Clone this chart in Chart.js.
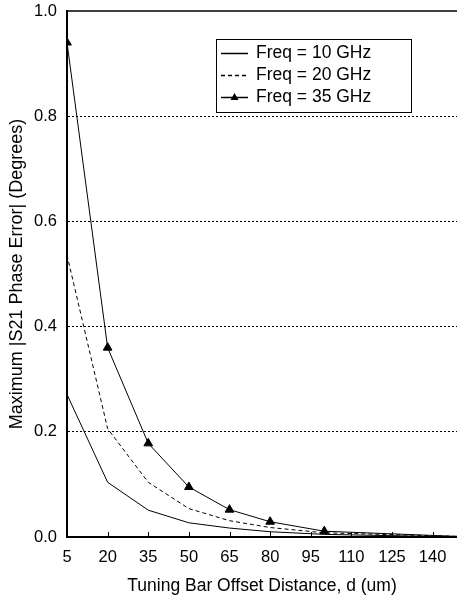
<!DOCTYPE html>
<html>
<head>
<meta charset="utf-8">
<script src="https://cdn.jsdelivr.net/npm/chart.js@4/dist/chart.umd.min.js"></script>
<style>
  html, body { margin: 0; padding: 0; background: #fff; }
</style>
</head>
<body>
<canvas id="grafico" width="457" height="599"></canvas>
<script>
// === Dados ===
const distancias = [5, 20, 35, 50, 65, 80, 100, 150];
const erro10GHz = [0.271, 0.104, 0.051, 0.027, 0.017, 0.010, 0.005, 0.000];
const erro20GHz = [0.536, 0.206, 0.104, 0.054, 0.031, 0.018, 0.008, 0.001];
const erro35GHz = [0.940, 0.360, 0.178, 0.095, 0.052, 0.029, 0.011, 0.001];
const nomesSeries = ["Freq = 10 GHz", "Freq = 20 GHz", "Freq = 35 GHz"];
const ticksX = [5, 20, 35, 50, 65, 80, 95, 110, 125, 140];
const ticksY = [0, 0.2, 0.4, 0.6, 0.8, 1.0];

const FONTE = '"Liberation Sans", Arial, sans-serif';

function pares(valores) {
  return distancias.map((d, i) => ({ x: d, y: valores[i] }));
}

// Moldura superior, marcas internas do eixo X e legenda em caixa
const molduraLegenda = {
  id: "molduraLegenda",
  afterDraw(chart) {
    const ctx = chart.ctx;
    const area = chart.chartArea;
    const escalaX = chart.scales.x;

    ctx.save();
    ctx.strokeStyle = "#000";

    // linha superior sólida em 1.0
    ctx.lineWidth = 1.5;
    ctx.beginPath();
    ctx.moveTo(area.left, area.top);
    ctx.lineTo(area.right, area.top);
    ctx.stroke();

    // marcas do eixo X voltadas para dentro
    ctx.lineWidth = 1;
    ticksX.slice(1).forEach(v => {
      const px = Math.round(escalaX.getPixelForValue(v)) + 0.5;
      ctx.beginPath();
      ctx.moveTo(px, area.bottom);
      ctx.lineTo(px, area.bottom - 5);
      ctx.stroke();
    });

    // legenda
    const caixa = { x: 216.5, y: 39.5, w: 195, h: 73 };
    ctx.fillStyle = "#fff";
    ctx.fillRect(caixa.x, caixa.y, caixa.w, caixa.h);
    ctx.lineWidth = 1;
    ctx.strokeRect(caixa.x, caixa.y, caixa.w, caixa.h);

    ctx.font = "17.5px " + FONTE;
    ctx.textBaseline = "middle";
    ctx.textAlign = "left";
    chart.data.datasets.forEach((ds, i) => {
      const y = 53 + i * 22;
      ctx.save();
      ctx.strokeStyle = "#000";
      ctx.lineWidth = 1.5;
      ctx.setLineDash(ds.borderDash || []);
      ctx.beginPath();
      ctx.moveTo(221, y + 0.5);
      ctx.lineTo(248, y + 0.5);
      ctx.stroke();
      ctx.restore();
      if (ds.pointRadius > 0) {
        ctx.fillStyle = "#000";
        ctx.beginPath();
        ctx.moveTo(234.5, y - 4);
        ctx.lineTo(238.5, y + 3);
        ctx.lineTo(230.5, y + 3);
        ctx.closePath();
        ctx.fill();
      }
      ctx.fillStyle = "#000";
      ctx.fillText(ds.label, 256, y);
    });
    ctx.restore();
  }
};

const ctx = document.getElementById("grafico").getContext("2d");
new Chart(ctx, {
  type: "line",
  data: {
    datasets: [
      {
        label: nomesSeries[0],
        data: pares(erro10GHz),
        borderColor: "#000",
        borderWidth: 1,
        pointRadius: 0,
        tension: 0
      },
      {
        label: nomesSeries[1],
        data: pares(erro20GHz),
        borderColor: "#000",
        borderWidth: 1,
        borderDash: [4, 3],
        pointRadius: 0,
        tension: 0
      },
      {
        label: nomesSeries[2],
        data: pares(erro35GHz),
        borderColor: "#000",
        borderWidth: 1,
        pointStyle: "triangle",
        pointRadius: 5,
        pointBackgroundColor: "#000",
        pointBorderColor: "#000",
        pointBorderWidth: 1,
        tension: 0
      }
    ]
  },
  options: {
    responsive: false,
    animation: false,
    events: [],
    layout: { autoPadding: false, padding: { top: 11, right: 0, left: 0, bottom: 0 } },
    plugins: {
      legend: { display: false },
      tooltip: { enabled: false }
    },
    scales: {
      x: {
        type: "linear",
        min: 5,
        max: 149,
        afterBuildTicks: s => { s.ticks = ticksX.map(v => ({ value: v })); },
        afterFit: s => { s.height = 62; },
        // marcas externas invisíveis só para afastar os rótulos do eixo
        grid: {
          display: true,
          drawOnChartArea: false,
          drawTicks: true,
          tickLength: 11,
          tickColor: "rgba(0,0,0,0)"
        },
        border: { display: true, color: "#000", width: 2 },
        ticks: {
          color: "#000",
          font: { family: FONTE, size: 16.5 },
          padding: 0,
          maxRotation: 0,
          autoSkip: false
        },
        title: {
          display: true,
          text: "Tuning Bar Offset Distance, d (um)",
          color: "#000",
          font: { family: FONTE, size: 17.5 },
          padding: { top: 0, bottom: 2 }
        }
      },
      y: {
        min: 0,
        max: 1,
        afterBuildTicks: s => { s.ticks = ticksY.map(v => ({ value: v })); },
        afterFit: s => { s.width = 67; },
        grid: {
          drawTicks: true,
          tickLength: 10,
          tickColor: "rgba(0,0,0,0)",
          lineWidth: 1,
          color: c => (c.tick && (c.tick.value === 0 || c.tick.value === 1)) ? "rgba(0,0,0,0)" : "#000"
        },
        border: { display: true, color: "#000", width: 2, dash: [2, 2] },
        ticks: {
          color: "#000",
          font: { family: FONTE, size: 16.5 },
          padding: 0,
          callback: v => Number(v).toFixed(1)
        },
        title: {
          display: true,
          text: "Maximum |S21 Phase Error| (Degrees)",
          color: "#000",
          font: { family: FONTE, size: 18 },
          padding: { top: 6, bottom: 0 }
        }
      }
    }
  },
  plugins: [molduraLegenda]
});
</script>
</body>
</html>
